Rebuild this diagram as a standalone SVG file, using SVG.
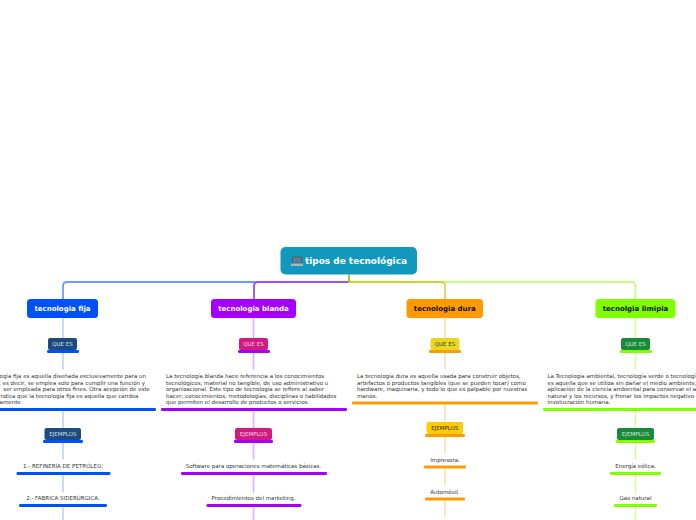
<svg xmlns="http://www.w3.org/2000/svg" width="696" height="520" viewBox="0 0 696 520">
<style>
text{font-family:"DejaVu Sans","Liberation Sans",sans-serif}
.c{fill:none;stroke-linecap:round}
.t{stroke-width:1.800}
.m{font-size:7px;font-weight:700;text-anchor:middle}
.l{font-size:5.5px;text-anchor:middle}
.b{font-size:5.5px;fill:#333}
.e{text-anchor:end}
.i{font-size:5.5px;fill:#333;text-anchor:middle}
.w{fill:#fff}.k{fill:#111}
.lb{stroke:#bcd0ff;stroke-width:1.600}
.lp{stroke:#e0b0ff;stroke-width:1.600}
.lo{stroke:#ffdcae;stroke-width:1.600}
.lg{stroke:#d0ffa0;stroke-width:1.600}
.ub{fill:#0050ff}.up{fill:#a400ff}.uo{fill:#ff9b00}.ug{fill:#80ff00}
</style>
<rect width="696" height="520" fill="#fff"/>
<g id="connectors">
<path class="c t" d="M349 282H67Q63 282 63 286V299" stroke="#6f9bff"/>
<path class="c t" d="M349 282H258Q254 282 254 286V299" stroke="#9b4dff"/>
<path class="c t" d="M349 282H631.500Q635.500 282 635.500 286V299" stroke="#c4ff80"/>
<path class="c t" d="M349 282H441Q445 282 445 286V299" stroke="#bfdc30"/>
<path class="c t" d="M445 284V299" stroke="#ffc880"/>
<path class="c" d="M349 275V282" stroke="#a9c52f" stroke-width="2"/>
<path class="c lb" d="M63 318V338M63 353V369M63 412V428M63 443V459M63 476V492M63 508V520"/>
<path class="c lp" d="M253.500 318V338M253.500 353V369M253.500 412V428M253.500 443V459M253.500 476V492M253.500 508V520"/>
<path class="c lo" d="M445 318V338M445 353V369M445 405V421M445 437V453M445 470V485M445 501V517"/>
<path class="c lg" d="M635.500 318V338M635.500 353V369M635.500 412V428M635.500 443V459M635.500 476V492M635.500 508V520"/>
</g>
<g id="root">
<rect x="280.500" y="247" width="136.500" height="27.500" rx="5" fill="#1199bd"/>
<rect x="292" y="256.500" width="10" height="7" rx="0.800" fill="#46606e"/>
<rect x="293" y="257.500" width="8" height="5" fill="#5d7f92"/>
<rect x="291" y="263.500" width="12" height="2.500" rx="0.600" fill="#a9b6bd"/>
<text x="356" y="263.700" font-size="8.950" font-weight="700" fill="#fff" text-anchor="middle">tipos de tecnológica</text>
</g>
<g id="fija">
<rect x="27" y="299" width="71" height="19" rx="3.500" fill="#0050ff"/>
<text class="m w" x="62.500" y="311">tecnologia fija</text>
</g>
<g id="blanda">
<rect x="211" y="299" width="85" height="19" rx="3.500" fill="#a400ff"/>
<text class="m w" x="253.500" y="311">tecnologia blanda</text>
</g>
<g id="dura">
<rect x="406.500" y="299" width="76.500" height="19" rx="3.500" fill="#ff9b00"/>
<text class="m k" x="444.800" y="311">tecnologia dura</text>
</g>
<g id="limpia">
<rect x="595.500" y="299" width="80" height="19" rx="3.500" fill="#80ff00"/>
<text class="m k" x="635.500" y="311">tecnolgia limipia</text>
</g>
<g id="fija-que-es">
<rect x="48" y="338" width="29" height="12" rx="2" fill="#1f4a80"/>
<text class="l" x="62.500" y="346" fill="#d4e0f0">QUE ES</text>
<rect class="ub" x="47" y="350" width="32" height="3" rx="1.200"/>
</g>
<g id="blanda-que-es">
<rect x="239" y="338" width="29" height="12" rx="2" fill="#d01c80"/>
<text class="l" x="253.500" y="346" fill="#fbd4ea">QUE ES</text>
<rect class="up" x="238" y="350" width="32" height="3" rx="1.200"/>
</g>
<g id="dura-que-es">
<rect x="430.500" y="338" width="29" height="12" rx="2" fill="#e8d820"/>
<text class="l" x="445" y="346" fill="#333">QUE ES</text>
<rect class="uo" x="429" y="350" width="32" height="3" rx="1.200"/>
</g>
<g id="limpia-que-es">
<rect x="621" y="338" width="29" height="12" rx="2" fill="#1a8a3a"/>
<text class="l" x="635.500" y="346" fill="#cfeeda">QUE ES</text>
<rect class="ug" x="620" y="350" width="32" height="3" rx="1.200"/>
</g>
<g id="fija-texto">
<text class="b e" x="146" y="378">ogía fija es aquella diseñada exclusivamente para un</text>
<text class="b e" x="145" y="384.600">; es decir, se emplea solo para cumplir una función y</text>
<text class="b e" x="150" y="391.200">ser empleada para otros fines. Otra acepción de este</text>
<text class="b e" x="138.500" y="397.800">ndica que la tecnología fija es aquella que cambia</text>
<text class="b e" x="22.500" y="404.400">amente.</text>
<rect class="ub" x="-3" y="408" width="159" height="3" rx="1.200"/>
</g>
<g id="blanda-texto">
<text class="b" x="166" y="378">La tecnología blanda hace referencia a los conocimientos</text>
<text class="b" x="166" y="384.600">tecnológicos, material no tangible, de uso administrativo u</text>
<text class="b" x="166" y="391.200">organizacional. Este tipo de tecnología se refiere al saber</text>
<text class="b" x="166" y="397.800">hacer; conocimientos, metodologías, disciplinas o habilidades</text>
<text class="b" x="166" y="404.400">que permiten el desarrollo de productos o servicios.</text>
<rect class="up" x="161" y="408" width="186" height="3" rx="1.200"/>
</g>
<g id="dura-texto">
<text class="b" x="357" y="378">La tecnología dura es aquella usada para construir objetos,</text>
<text class="b" x="357" y="384.600">artefactos o productos tangibles (que se pueden tocar) como</text>
<text class="b" x="357" y="391.200">hardware, maquinaria, y todo lo que es palpable por nuestras</text>
<text class="b" x="357" y="397.800">manos.</text>
<rect class="uo" x="352" y="401.500" width="186" height="3" rx="1.200"/>
</g>
<g id="limpia-texto">
<text class="b" x="547.500" y="378">La Tecnología ambiental, tecnología verde o tecnologí</text>
<text class="b" x="547.500" y="384.600">es aquella que se utiliza sin dañar el medio ambiente,</text>
<text class="b" x="547.500" y="391.200">aplicación de la ciencia ambiental para conservar el a</text>
<text class="b" x="547.500" y="397.800">natural y los recursos, y frenar los impactos negativo</text>
<text class="b" x="547.500" y="404.400">involucración humana.</text>
<rect class="ug" x="543" y="408" width="156" height="3" rx="1.200"/>
</g>
<g id="fija-ejemplos">
<rect x="44.500" y="428" width="36.500" height="12" rx="2" fill="#1f4a80"/>
<text class="l" x="62.800" y="436" fill="#d4e0f0">EJEMPLOS</text>
<rect class="ub" x="43" y="440" width="40" height="3" rx="1.200"/>
</g>
<g id="blanda-ejemplos">
<rect x="235" y="428" width="37" height="12" rx="2" fill="#d01c80"/>
<text class="l" x="253.500" y="436" fill="#fbd4ea">EJEMPLOS</text>
<rect class="up" x="234" y="440" width="39" height="3" rx="1.200"/>
</g>
<g id="dura-ejemplos">
<rect x="426.500" y="422" width="36.500" height="12" rx="2" fill="#ffcc00"/>
<text class="l" x="444.800" y="430" fill="#222">EJEMPLOS</text>
<rect class="uo" x="425" y="434" width="40" height="3" rx="1.200"/>
</g>
<g id="limpia-ejemplos">
<rect x="617" y="428" width="37" height="12" rx="2" fill="#1a8a3a"/>
<text class="l" x="635.500" y="436" fill="#cfeeda">EJEMPLOS</text>
<rect class="ug" x="616" y="440" width="39" height="3" rx="1.200"/>
</g>
<g id="fija-1"><text class="i" x="63" y="468">1.- REFINERÍA DE PETRÓLEO:</text><rect class="ub" x="16.500" y="472" width="94" height="3" rx="1.200"/></g>
<g id="fija-2"><text class="i" x="63" y="500">2.- FABRICA SIDERÚRGICA:</text><rect class="ub" x="19" y="504" width="88" height="3" rx="1.200"/></g>
<g id="blanda-1"><text class="i" x="253.500" y="468">Software para operaciones matemáticas básicas.</text><rect class="up" x="181" y="472" width="146" height="3" rx="1.200"/></g>
<g id="blanda-2"><text class="i" x="253.500" y="500">Procedimientos del marketing.</text><rect class="up" x="206.500" y="504" width="95" height="3" rx="1.200"/></g>
<g id="dura-1"><text class="i" x="445" y="462">Impresora.</text><rect class="uo" x="424" y="465.500" width="42" height="3" rx="1.200"/></g>
<g id="dura-2"><text class="i" x="445" y="494">Automóvil.</text><rect class="uo" x="425" y="497.500" width="40" height="3" rx="1.200"/></g>
<g id="limpia-1"><text class="i" x="635.500" y="468">Energía eólica.</text><rect class="ug" x="610" y="472" width="51" height="3" rx="1.200"/></g>
<g id="limpia-2"><text class="i" x="635.500" y="500">Gas natural</text><rect class="ug" x="614" y="504" width="43" height="3" rx="1.200"/></g>
</svg>
